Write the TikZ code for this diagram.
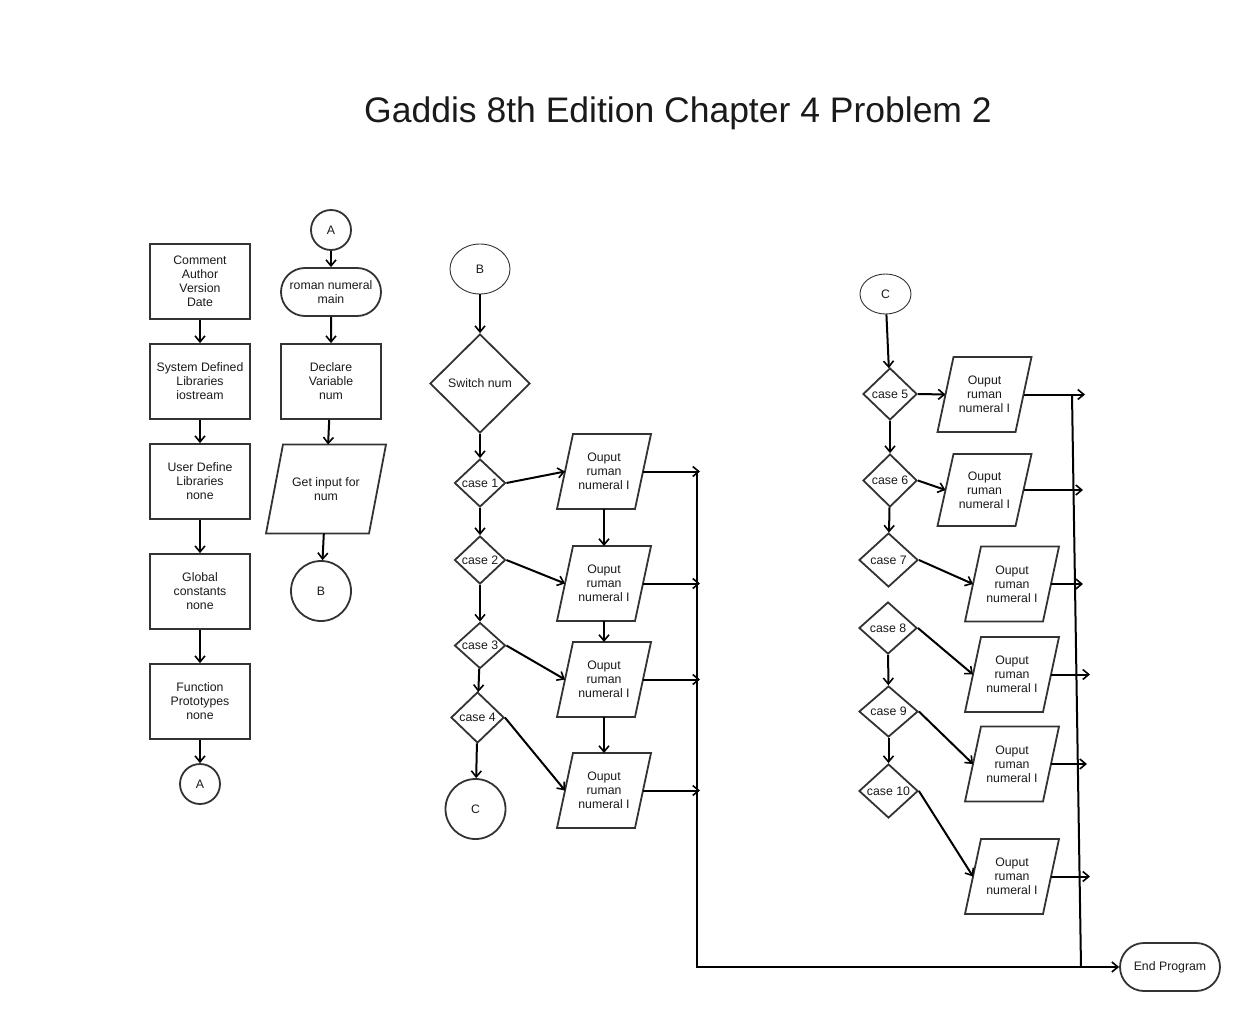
\documentclass[tikz,border=0pt]{standalone}
\usepackage{fontspec}
\setmainfont{Liberation Sans}
\usetikzlibrary{shapes.geometric,shapes.misc,arrows.meta}
\definecolor{edgec}{HTML}{333333}
\definecolor{ink}{HTML}{1A1A1A}
\newcommand\zc[1]{\makebox[0pt]{#1}}
\begin{document}
\begin{tikzpicture}[x=1pt,y=-1pt,
  every node/.style={font=\fontsize{12.3}{14}\selectfont, text=ink, align=center},
  shp/.style={draw=edgec, line width=1.8pt},
  box/.style={shp, rectangle, minimum width=100pt, minimum height=75pt, inner sep=1pt},
  conn/.style={shp, circle, inner sep=0pt},
  term/.style={shp, rounded rectangle, minimum width=100pt, minimum height=48pt, inner sep=0pt},
  dec/.style={shp, diamond, inner sep=0pt, minimum width=51pt, minimum height=48pt},
  io/.style={rectangle, minimum width=78pt, minimum height=75pt, inner sep=0pt, outer sep=0pt},
  arr/.style={line width=2pt, draw=black, -{Straight Barb[length=6pt,width=10pt,line width=1.6pt]}},
  ln/.style={line width=2pt, draw=black}]
\useasboundingbox (0,0) rectangle (1240,1014);

\node (title) at (678,113) {\fontsize{35.5}{40}\selectfont Gaddis 8th Edition Chapter 4 Problem 2};

% left column
\node[box] (c1) at (200,281.5) {Comment\\Author\\Version\\Date};
\node[box] (c2) at (200,381.5) {System Defined\\Libraries\\iostream};
\node[box] (c3) at (200,481.5) {User Define\\Libraries\\none};
\node[box] (c4) at (200,591.5) {Global\\constants\\none};
\node[box] (c5) at (200,701.5) {Function\\Prototypes\\none};
\node[conn, minimum size=40pt] (cA) at (200,784) {A};

% second column
\node[conn, minimum size=40pt] (A2) at (331,230) {A};
\node[term] (main) at (331,292) {roman numeral\\main};
\node[box] (decl) at (331,381.5) {Declare\\Variable\\num};
\node[io, minimum width=103pt, minimum height=89pt] (getin) at (326,489) {Get input for\\num};
\node[conn, minimum size=60pt] (B2) at (321,591) {B};

% middle
\node[shp, ellipse, line width=0.9pt, minimum width=60pt, minimum height=50pt] (Bm) at (480,269) {B};
\node[dec, minimum width=100pt, minimum height=99pt] (sw) at (480,383.5) {\zc{Switch num}};
\node[dec] (k1) at (480,483) {\zc{case 1}};
\node[dec] (k2) at (480,560) {\zc{case 2}};
\node[dec, minimum height=46pt] (k3) at (480,645.5) {\zc{case 3}};
\node[dec, minimum width=53pt, minimum height=51pt] (k4) at (477.5,717.5) {\zc{case 4}};
\node[conn, minimum size=60pt] (Cm) at (475.5,809) {C};
\node[io] (p1) at (604,471.5) {Ouput\\ruman\\numeral I};
\node[io] (p2) at (604,583.5) {Ouput\\ruman\\numeral I};
\node[io] (p3) at (604,679.5) {Ouput\\ruman\\numeral I};
\node[io] (p4) at (604,790.5) {Ouput\\ruman\\numeral I};
\coordinate (e1) at (700,471.5);
\coordinate (e2) at (700,583.5);
\coordinate (e3) at (700,679.5);
\coordinate (e4) at (700,790.5);
\coordinate (mt) at (697,471.5);

\node[term, minimum width=100pt, minimum height=48pt] (endp) at (1170,967) {End Program};

% right
\node[shp, ellipse, line width=0.9pt, minimum width=51pt, minimum height=40pt] (Cr) at (885.5,294) {C};
\node[dec, minimum width=54pt, minimum height=52pt] (k5) at (890,394) {\zc{case 5}};
\node[dec, minimum width=54pt, minimum height=53pt] (k6) at (890,480.5) {\zc{case 6}};
\node[dec, minimum width=59pt, minimum height=54pt] (k7) at (888.5,560) {\zc{case 7}};
\node[dec, minimum width=58pt, minimum height=52pt] (k8) at (888,628) {\zc{case 8}};
\node[dec, minimum width=59pt, minimum height=51pt] (k9) at (888.5,711.5) {\zc{case 9}};
\node[dec, minimum width=59pt, minimum height=54pt] (k10) at (888.5,791) {\zc{case 10}};
\node[io] (r5) at (984.5,394.5) {Ouput\\ruman\\numeral I};
\node[io, minimum height=72pt] (r6) at (984.5,490) {Ouput\\ruman\\numeral I};
\node[io] (r7) at (1012,584) {Ouput\\ruman\\numeral I};
\node[io] (r8) at (1012,674.5) {Ouput\\ruman\\numeral I};
\node[io] (r9) at (1012,764) {Ouput\\ruman\\numeral I};
\node[io] (r10) at (1012,876.5) {Ouput\\ruman\\numeral I};
\coordinate (f5) at (1085,394.5);
\coordinate (f6) at (1083,490);
\coordinate (f7) at (1083,584);
\coordinate (f8) at (1090,674.5);
\coordinate (f9) at (1087,764);
\coordinate (f10) at (1090,876.5);
\coordinate (rt) at (1072,394.5);
\coordinate (rb) at (1081,967);

% parallelogram outlines
\foreach \n/\s in {getin/8.5,p1/8,p2/8,p3/8,p4/8,r5/8,r6/8,r7/8,r8/8,r9/8,r10/8}
  \draw[shp, line join=miter] ([xshift=-\s pt]\n.south west) -- ([xshift=-\s pt]\n.south east)
     -- ([xshift=\s pt]\n.north east) -- ([xshift=\s pt]\n.north west) -- cycle;

% connectors
\draw[arr] (c1) -- (c2);
\draw[arr] (c2) -- (c3);
\draw[arr] (c3) -- (c4);
\draw[arr] (c4) -- (c5);
\draw[arr] (c5) -- (cA);

\draw[arr] (A2) -- (main);
\draw[arr] (main) -- (decl);
\draw[arr] (decl) -- (getin);
\draw[arr] (getin) -- (B2);

\draw[arr] (Bm) -- (sw);
\draw[arr] (sw) -- (k1);
\draw[arr] (k1) -- (k2);
\draw[arr] (k2) -- (k3);
\draw[arr] (k3) -- (k4);
\draw[arr] (k4) -- (Cm);
\draw[arr] (k1.east) -- (p1.west);
\draw[arr] (k2.east) -- (p2.west);
\draw[arr] (k3.east) -- (p3.west);
\draw[arr] (k4.east) -- (p4.west);
\draw[arr] (p1) -- (p2);
\draw[arr] (p2) -- (p3);
\draw[arr] (p3) -- (p4);
\draw[arr] (p1.east) -- (e1);
\draw[arr] (p2.east) -- (e2);
\draw[arr] (p3.east) -- (e3);
\draw[arr] (p4.east) -- (e4);
\draw[arr] (mt) |- (endp.west);

\draw[ln] (rt) -- (rb);
\draw[arr] (Cr) -- (k5);
\draw[arr] (k5) -- (k6);
\draw[arr] (k6) -- (k7);
\draw[arr] (k8) -- (k9);
\draw[arr] (k9) -- (k10);
\draw[arr] (k5.east) -- (r5.west);
\draw[arr] (k6.east) -- (r6.west);
\draw[arr] (k7.east) -- (r7.west);
\draw[arr] (k8.east) -- (r8.west);
\draw[arr] (k9.east) -- (r9.west);
\draw[arr] (k10.east) -- (r10.west);
\draw[arr] (r5.east) -- (f5);
\draw[arr] (r6.east) -- (f6);
\draw[arr] (r7.east) -- (f7);
\draw[arr] (r8.east) -- (f8);
\draw[arr] (r9.east) -- (f9);
\draw[arr] (r10.east) -- (f10);
\end{tikzpicture}
\end{document}
